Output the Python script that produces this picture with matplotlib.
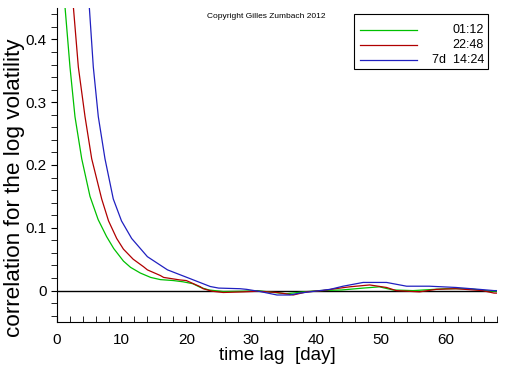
import matplotlib
matplotlib.use("Agg")
import matplotlib.pyplot as plt
from matplotlib.lines import Line2D
from matplotlib.patches import Rectangle
from matplotlib.ticker import MultipleLocator

plt.rcParams['font.family'] = ['Liberation Sans', 'DejaVu Sans']

# lag in days and correlation
lag_green = [0.8, 1.28, 2.05, 2.82, 3.86, 5.14, 6.4, 7.7, 8.8, 10.3, 11.4, 12.9, 14.5, 16, 18,
             19.5, 21, 22.2, 23.5, 25.7, 28.8, 31, 33.5, 35.5, 38.1, 40.6, 44, 47.3, 49.8,
             51.9, 55, 60, 63.6, 67, 68]
corr_green = [0.525, 0.452, 0.356, 0.277, 0.21, 0.15, 0.113, 0.086, 0.067, 0.047, 0.037, 0.028,
              0.021, 0.0175, 0.016, 0.014, 0.011, 0.005, 0.001, -0.0015, -0.001, 0.0, -0.003,
              -0.005, -0.002, 0.0, 0.001, 0.004, 0.006, 0.001, 0.0, 0.003, 0.003, -0.001, -0.001]

lag_red = [2.1, 2.57, 3.34, 4.37, 5.4, 6.94, 8.0, 9.26, 10.3, 11.8, 13.4, 14, 16,
           16.5, 19, 20, 22.2, 22.6, 24, 25.7, 28.8, 31, 34, 36.5, 38.6, 41, 43, 45.2, 48.3,
           50.9, 52.4, 56, 58.6, 61.6, 65.7, 67.5, 68]
corr_red = [0.52, 0.452, 0.356, 0.277, 0.21, 0.146, 0.111, 0.083, 0.066, 0.05, 0.038, 0.033,
            0.024, 0.021, 0.017, 0.016, 0.006, 0.003, -0.001, -0.003,
            -0.002, -0.001, -0.003, -0.007, -0.002, 0.0, 0.003, 0.006, 0.009, 0.005, 0.0,
            -0.002, 0.002, 0.003, 0.0, -0.004, -0.004]

lag_blue = [4.6, 5.03, 5.65, 6.42, 7.45, 8.73, 10.0, 11.57, 14, 17.1, 19.1, 20.6,
            23.7, 25, 28.3, 29.3, 31.4, 34, 36, 37.5, 40.6, 42.2, 44.2, 47.3, 50.9, 54, 57.5,
            61.6, 65.2, 67.5, 68]
corr_blue = [0.537, 0.452, 0.356, 0.277, 0.21, 0.146, 0.111, 0.083, 0.054,
             0.033, 0.025, 0.019, 0.0065, 0.004, 0.003, 0.002, -0.0015, -0.007, -0.007, -0.004,
             0.0, 0.002, 0.007, 0.013, 0.013, 0.007, 0.007, 0.005, 0.002, 0.0, 0.0]

labels = ["01:12", "22:48", "7d  14:24"]
colors = ["#00c000", "#b00000", "#2020c0"]

fig = plt.figure(figsize=(5.12, 3.66), dpi=100)
ax = fig.add_axes([56.7 / 512, 44 / 366, 440.6 / 512, 314 / 366])

ax.axhline(0, color="black", lw=1.0)
ax.plot(lag_green, corr_green, color=colors[0], lw=0.9)
ax.plot(lag_red, corr_red, color=colors[1], lw=0.9)
ax.plot(lag_blue, corr_blue, color=colors[2], lw=0.9)

ax.set_xlim(0, 68)
ax.set_ylim(-0.05, 0.45)
ax.spines['top'].set_visible(False)
ax.spines['right'].set_visible(False)

ax.xaxis.set_major_locator(MultipleLocator(10))
ax.xaxis.set_minor_locator(MultipleLocator(2))
ax.yaxis.set_minor_locator(MultipleLocator(0.02))
ax.set_yticks([0, 0.1, 0.2, 0.3, 0.4])
ax.set_yticklabels(["0", "0.1", "0.2", "0.3", "0.4"])
ax.tick_params(axis='x', which='both', direction='in', length=4, pad=8, labelsize=11)
ax.tick_params(axis='y', which='both', direction='out', length=4, pad=3, labelsize=11)

ax.set_xlabel("time lag  [day]", fontsize=13.5, labelpad=0)
ax.set_ylabel("correlation for the log volatility", fontsize=16.2)
ax.yaxis.set_label_coords(-0.072, 0.428)

fig.text(266 / 512, 1 - 16 / 366, "Copyright Gilles Zumbach 2012", fontsize=6,
         ha="center", va="center")

# legend box drawn by hand so the labels sit right-aligned
fig.patches.append(Rectangle((354 / 512, 1 - 69 / 366), 134 / 512, 55 / 366,
                             transform=fig.transFigure, fill=False, edgecolor="black", lw=0.8))
for i, (lab, col) in enumerate(zip(labels, colors)):
    yy = 1 - (30 + 15 * i) / 366
    fig.lines.append(Line2D([360 / 512, 417 / 512], [yy, yy], transform=fig.transFigure,
                            color=col, lw=0.9))
    fig.text(484 / 512, yy, lab, fontsize=9, ha="right", va="center")

fig.savefig("out.png", dpi=100)
